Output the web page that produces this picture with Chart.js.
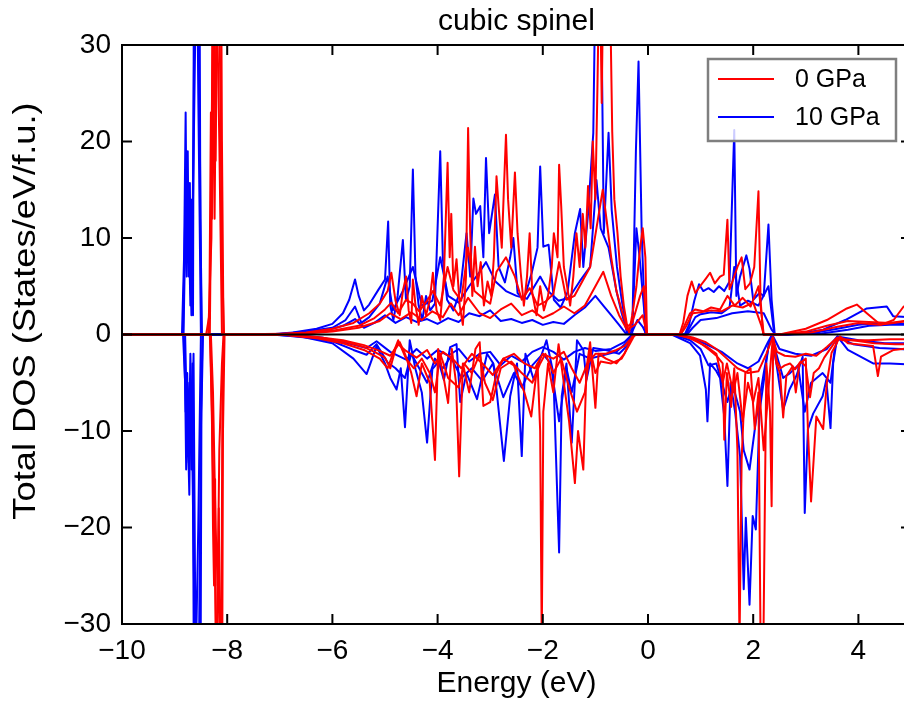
<!DOCTYPE html>
<html>
<head>
<meta charset="utf-8">
<script src="https://cdn.jsdelivr.net/npm/chart.js@4.4.1/dist/chart.umd.min.js"></script>
<style>
  html, body { margin: 0; padding: 0; background: #fff; overflow: hidden; }
  #wrap { width: 911px; height: 715px; }
</style>
</head>
<body>
<div id="wrap"><canvas id="dos"></canvas></div>
<script>
// tick labels
const energyTicks = [-10, -8, -6, -4, -2, 0, 2, 4];
const dosTicks = [-30, -20, -10, 0, 10, 20, 30];
const pressureLabels = ['0 GPa', '10 GPa'];
const yAxisLabel = 'Total DOS (States/eV/f.u.)';

// 0 GPa, spin up  [energy (eV), DOS]
const gpa0Up1 = [[-10,0],[-8.4,0],[-8.34,2],[-8.31,23],[-8.29,12],[-8.27,50],[-8.23,38],[-8.2,60],[-8.16,45],[-8.13,55],[-8.1,20],[-8.07,0],[-7.5,0],[-7,0.05],[-6.5,0.2],[-6,0.6],[-5.6,1.2],[-5.3,2.2],[-5.1,3.2],[-4.95,4.5],[-4.88,6.4],[-4.8,3.5],[-4.72,2],[-4.66,4.5],[-4.6,6],[-4.55,2.5],[-4.5,1.2],[-4.47,5.7],[-4.42,3],[-4.36,1],[-4.3,4],[-4.22,2],[-4.15,3.5],[-4.09,6.4],[-4.02,2.5],[-3.95,1.5],[-3.88,6],[-3.81,17.8],[-3.77,8],[-3.74,12.5],[-3.7,5],[-3.64,7.8],[-3.58,3],[-3.52,1],[-3.46,6],[-3.42,21.4],[-3.38,10.5],[-3.34,4],[-3.29,9.1],[-3.24,5],[-3.18,7.5],[-3.12,3],[-3.05,5.5],[-2.98,4],[-2.93,8],[-2.88,16.4],[-2.84,13.3],[-2.78,9],[-2.74,15],[-2.7,20.7],[-2.66,14],[-2.6,9],[-2.53,16.8],[-2.48,10.5],[-2.42,6.4],[-2.36,3],[-2.3,6],[-2.25,10.5],[-2.2,4.3],[-2.12,2],[-2.05,5],[-1.98,2.5],[-1.9,4],[-1.83,7],[-1.79,10.5],[-1.72,8],[-1.69,17.6],[-1.65,13.3],[-1.6,7],[-1.55,5.4],[-1.48,3],[-1.42,6],[-1.36,10.5],[-1.3,7],[-1.24,12.5],[-1.19,9],[-1.14,15.4],[-1.09,11],[-1.05,20],[-1.0,14],[-0.96,26],[-0.92,40],[-0.88,24],[-0.84,42],[-0.8,30],[-0.76,45],[-0.72,35],[-0.68,21],[-0.64,14],[-0.58,10.5],[-0.52,6],[-0.46,3],[-0.4,1],[-0.36,0.2],[-0.3,2],[-0.22,5],[-0.15,9],[-0.1,11],[-0.05,8],[-0.02,0],[0.6,0],[0.67,1.2],[0.75,4],[0.83,5.5],[0.9,4.3],[0.99,5],[1.1,5.8],[1.18,6.4],[1.27,5.3],[1.37,6],[1.44,6.2],[1.51,11.9],[1.55,4.7],[1.62,5.7],[1.7,7],[1.78,8],[1.85,4.7],[1.94,5.3],[2.02,7],[2.1,14.85],[2.14,3.6],[2.19,0],[2.5,0],[3.0,0.6],[3.4,1.5],[3.78,2.7],[3.97,3.1],[4.16,2.2],[4.42,1.0],[4.67,1.5],[4.86,2.9],[5,2.6]];
const gpa0Up2 = [[-10,0],[-8.36,0],[-8.3,10],[-8.26,38],[-8.22,18],[-8.18,42],[-8.14,30],[-8.1,8],[-8.06,0],[-7,0.03],[-6.5,0.15],[-6,0.4],[-5.5,0.9],[-5.2,1.7],[-5.0,2.6],[-4.88,3.3],[-4.75,2.2],[-4.6,3.6],[-4.47,3.2],[-4.35,2.4],[-4.2,3.5],[-4.09,4.5],[-3.95,3],[-3.81,7],[-3.7,4.6],[-3.55,3.5],[-3.42,9],[-3.3,4.5],[-3.15,3.8],[-3.0,3.2],[-2.88,6.5],[-2.7,8],[-2.53,6],[-2.4,3.6],[-2.25,4.8],[-2.1,3],[-1.95,3.4],[-1.8,4.2],[-1.69,7.5],[-1.55,3.6],[-1.4,4],[-1.24,5.6],[-1.1,7],[-0.95,12],[-0.86,15],[-0.79,12],[-0.7,8],[-0.6,4.5],[-0.5,2.5],[-0.4,0.8],[-0.3,1.2],[-0.15,4],[-0.08,5],[-0.02,0],[0.62,0],[0.7,1],[0.8,2.2],[0.9,2.6],[1.05,2.4],[1.2,2.8],[1.37,2.6],[1.51,4],[1.65,3],[1.8,3.8],[1.95,2.9],[2.1,5],[2.2,0],[2.5,0],[3.0,0.3],[3.4,0.9],[3.8,1.4],[4.2,1.3],[4.6,1.2],[5,1.5]];
const gpa0Up3 = [[-10,0],[-8.33,0],[-8.28,30],[-8.24,12],[-8.2,36],[-8.15,20],[-8.1,0],[-6.5,0.1],[-6,0.3],[-5.5,0.7],[-5.1,1.4],[-4.9,2.2],[-4.7,1.6],[-4.5,2.3],[-4.3,1.5],[-4.1,2.4],[-3.9,1.8],[-3.75,3.2],[-3.6,2],[-3.42,3.8],[-3.2,2.2],[-3.0,1.7],[-2.8,2.6],[-2.6,3.2],[-2.4,2],[-2.2,2.5],[-2,1.7],[-1.8,2.2],[-1.6,2.9],[-1.4,2.2],[-1.2,3],[-1.0,5],[-0.85,6.5],[-0.7,4],[-0.55,2],[-0.4,0.5],[-0.25,1],[-0.1,2],[-0.02,0],[0.62,0],[0.72,0.8],[0.85,2.2],[1.0,2.3],[1.2,2.5],[1.4,2.4],[1.6,3],[1.8,2.8],[2.0,3.3],[2.15,1],[2.2,0],[2.55,0],[3.1,0.2],[3.6,0.8],[4.0,1.2],[4.4,1.0],[4.8,1.3],[5,1.4]];

// 0 GPa, spin down
const gpa0Dn1 = [[-10,0],[-8.33,0],[-8.29,-8],[-8.27,-20],[-8.25,-26],[-8.23,-15],[-8.2,-45],[-8.17,-55],[-8.14,-40],[-8.11,-60],[-8.08,-10],[-8.05,0],[-7,0],[-6.8,-0.05],[-6.3,-0.3],[-5.8,-0.7],[-5.4,-1.3],[-5.2,-1.8],[-5.0,-2.4],[-4.9,-3.5],[-4.8,-1.5],[-4.72,-0.8],[-4.62,-2],[-4.5,-4],[-4.4,-6.4],[-4.3,-3],[-4.15,-5],[-4.05,-13],[-3.99,-1.5],[-3.9,-4],[-3.8,-7.1],[-3.73,-1.5],[-3.65,-5],[-3.59,-14.7],[-3.52,-3],[-3.4,-6],[-3.28,-1.5],[-3.2,-0.8],[-3.13,-7.4],[-3.0,-7],[-2.88,-4],[-2.75,-2.5],[-2.55,-3.2],[-2.35,-6],[-2.22,-8.5],[-2.1,-3],[-2.05,-10],[-2.02,-32],[-1.99,-8],[-1.9,-3],[-1.8,-6],[-1.7,-1],[-1.6,-5],[-1.5,-9],[-1.39,-15.4],[-1.33,-10],[-1.23,-14],[-1.17,-3.5],[-1.1,-0.8],[-1.0,-7.6],[-0.94,-2],[-0.8,-2.5],[-0.6,-3],[-0.45,-2],[-0.3,-0.2],[-0.2,0],[0.5,0],[0.8,-0.3],[1.0,-0.9],[1.17,-1.6],[1.3,-2.2],[1.42,-3],[1.45,-10.9],[1.5,-4],[1.58,-7.5],[1.64,-3.5],[1.7,-12],[1.74,-32],[1.78,-13],[1.85,-4],[1.95,-3.5],[2.03,-9.8],[2.1,-6],[2.14,-32],[2.19,-34],[2.25,-3],[2.32,-8],[2.35,-17.8],[2.38,-0.3],[2.44,-3],[2.51,-4],[2.57,-8.6],[2.63,-4.3],[2.75,-3.3],[2.81,-6],[2.88,-3],[3.0,-2.5],[3.04,-9.8],[3.1,-17.3],[3.2,-8.5],[3.33,-9.8],[3.4,-5],[3.49,-1.9],[3.56,-1.2],[3.65,-0.2],[3.8,-0.9],[4.28,-1.2],[4.37,-4.3],[4.43,-2.3],[4.67,-1.6],[5,-1.4]];
const gpa0Dn2 = [[-10,0],[-8.32,0],[-8.28,-12],[-8.24,-22],[-8.2,-38],[-8.16,-18],[-8.12,-44],[-8.09,-5],[-8.06,0],[-6.9,-0.05],[-6.3,-0.4],[-5.8,-0.9],[-5.4,-1.6],[-5.1,-2.5],[-4.95,-3.5],[-4.85,-2],[-4.75,-0.6],[-4.6,-2.5],[-4.45,-3.5],[-4.3,-2.5],[-4.15,-4],[-4.05,-6],[-3.95,-2],[-3.8,-4.5],[-3.6,-5.5],[-3.5,-3],[-3.35,-4],[-3.2,-2],[-3.1,-5],[-2.95,-6.8],[-2.8,-3.5],[-2.6,-2.8],[-2.4,-4],[-2.2,-5],[-2.05,-3],[-1.95,-2],[-1.8,-4],[-1.65,-2.5],[-1.5,-5.5],[-1.35,-8],[-1.2,-6],[-1.1,-1.5],[-1.0,-4],[-0.9,-2.8],[-0.7,-3],[-0.5,-2.5],[-0.35,-1],[-0.25,0],[0.55,0],[0.8,-0.4],[1.1,-1.2],[1.3,-2],[1.42,-5],[1.5,-3],[1.62,-6],[1.7,-4],[1.8,-9],[1.9,-5],[2.0,-7],[2.1,-4.5],[2.2,-12],[2.3,-5],[2.37,-0.5],[2.45,-2.8],[2.52,-3.5],[2.6,-3.2],[2.7,-3],[2.8,-3.6],[2.9,-2.8],[3.0,-3.3],[3.08,-6.5],[3.15,-4],[3.25,-3.5],[3.35,-2.4],[3.5,-1.2],[3.6,-0.4],[3.7,-0.6],[4.2,-0.6],[4.6,-0.5],[5,-0.5]];
const gpa0Dn3 = [[-10,0],[-8.31,0],[-8.27,-6],[-8.22,-20],[-8.18,-26],[-8.15,-12],[-8.1,-3],[-8.07,0],[-6.9,-0.03],[-6.3,-0.25],[-5.8,-0.6],[-5.4,-1.1],[-5.1,-1.7],[-4.9,-2.2],[-4.75,-1],[-4.6,-1.7],[-4.4,-2.4],[-4.2,-1.6],[-4.05,-3],[-3.9,-1.8],[-3.7,-2.6],[-3.55,-3.5],[-3.35,-2],[-3.15,-3],[-2.95,-4.2],[-2.75,-2.5],[-2.55,-2],[-2.35,-3],[-2.15,-3.5],[-2.0,-2],[-1.8,-2.5],[-1.6,-1.8],[-1.45,-3.5],[-1.3,-5],[-1.15,-3],[-1.0,-2],[-0.8,-2],[-0.6,-1.6],[-0.45,-1.2],[-0.32,-0.4],[-0.25,0],[0.58,0],[0.85,-0.3],[1.1,-0.8],[1.3,-1.5],[1.5,-2.5],[1.7,-3.5],[1.9,-4],[2.1,-3.8],[2.25,-2],[2.37,-0.3],[2.45,-1.8],[2.6,-2.2],[2.8,-2.3],[3.0,-2],[3.2,-2.2],[3.4,-1.3],[3.6,-0.3],[3.75,-0.5],[4.3,-0.9],[4.7,-1.0],[5,-1.0]];

// 10 GPa, spin up
const gpa10Up1 = [[-10,0],[-8.86,0],[-8.82,8],[-8.79,23],[-8.77,9],[-8.75,19],[-8.73,6],[-8.71,15.7],[-8.69,4],[-8.67,14],[-8.65,2],[-8.63,45],[-8.6,55],[-8.57,40],[-8.54,60],[-8.51,12],[-8.48,0],[-7.2,0],[-6.75,0.2],[-6.3,0.6],[-6.0,1.1],[-5.8,2.2],[-5.68,3.6],[-5.57,5.7],[-5.5,4],[-5.4,2.5],[-5.3,3.1],[-5.13,4.6],[-5.0,5.7],[-4.94,11.7],[-4.9,3],[-4.84,1.5],[-4.76,4],[-4.66,9.8],[-4.6,3.5],[-4.53,5],[-4.47,17.1],[-4.42,6],[-4.36,3],[-4.29,1.5],[-4.22,4],[-4.14,2.5],[-4.05,3.2],[-3.95,19],[-3.9,7.8],[-3.82,3.6],[-3.7,2.5],[-3.57,4.5],[-3.45,10.5],[-3.38,6],[-3.32,14.1],[-3.27,12.5],[-3.19,13.3],[-3.13,8],[-3.08,18.3],[-3.02,10.5],[-2.91,14.5],[-2.84,7],[-2.72,5.4],[-2.62,8],[-2.56,10],[-2.48,4.3],[-2.36,3.6],[-2.21,6.4],[-2.1,9],[-2.05,17.4],[-1.99,9.1],[-1.89,9.3],[-1.79,3.6],[-1.66,2.8],[-1.53,4.4],[-1.39,10.5],[-1.29,13],[-1.23,7],[-1.14,12.5],[-1.04,20.9],[-0.98,45],[-0.95,35],[-0.92,50],[-0.84,10.5],[-0.75,20.9],[-0.69,12.9],[-0.59,7],[-0.5,3.6],[-0.4,0.2],[-0.3,0],[-0.23,19],[-0.18,28.3],[-0.12,10.5],[-0.05,0],[0.7,0],[0.78,1],[0.88,3.5],[0.97,5.2],[1.05,4.5],[1.15,4.8],[1.25,4.4],[1.35,5],[1.45,4.5],[1.55,5.5],[1.64,21.2],[1.68,4],[1.75,6],[1.87,8.2],[1.93,6.8],[2.0,3.6],[2.12,4.3],[2.2,4],[2.29,11.4],[2.35,3.6],[2.41,0],[2.63,0],[3.0,0.2],[3.33,0.5],[3.75,1.5],[4.16,2.7],[4.54,2.9],[4.66,1.9],[5,1.8]];
const gpa10Up2 = [[-10,0],[-8.84,0],[-8.8,12],[-8.77,6],[-8.74,14],[-8.7,3],[-8.66,10],[-8.62,35],[-8.58,45],[-8.55,25],[-8.5,0],[-7,0.05],[-6.5,0.3],[-6.0,0.7],[-5.75,1.5],[-5.57,2.9],[-5.45,1.2],[-5.3,1.8],[-5.1,3.2],[-4.95,6],[-4.85,2.5],[-4.66,4.5],[-4.47,7],[-4.3,3],[-4.1,3.5],[-3.95,8],[-3.8,4],[-3.6,3.3],[-3.4,5],[-3.2,6.5],[-3.08,7.5],[-2.9,5.5],[-2.7,4.5],[-2.5,4],[-2.3,3.7],[-2.05,6],[-1.9,4.5],[-1.7,3.5],[-1.5,3.8],[-1.3,5.5],[-1.1,7],[-0.98,16],[-0.9,11],[-0.75,9],[-0.6,4.5],[-0.5,2.2],[-0.4,0.3],[-0.3,0.5],[-0.22,11],[-0.16,8],[-0.08,3],[-0.03,0],[0.72,0],[0.8,0.8],[0.9,1.8],[1.0,2.1],[1.2,2.3],[1.4,2.2],[1.55,2.8],[1.64,7],[1.75,3],[1.9,3.5],[2.1,3],[2.29,5],[2.4,0],[2.65,0],[3.2,0.2],[3.6,0.6],[4.0,1.0],[4.4,1.2],[4.8,1.1],[5,1.2]];
const gpa10Up3 = [[-10,0],[-8.83,0],[-8.78,16],[-8.75,8],[-8.72,12],[-8.68,2],[-8.61,30],[-8.57,38],[-8.52,20],[-8.49,0],[-6.8,0.05],[-6.2,0.3],[-5.8,0.9],[-5.57,1.6],[-5.4,0.7],[-5.2,1.2],[-5.0,2],[-4.8,1.2],[-4.6,1.8],[-4.4,1.3],[-4.2,1.6],[-4.0,1.1],[-3.8,1.7],[-3.6,1.3],[-3.4,2.2],[-3.2,1.9],[-3.0,2.5],[-2.8,1.4],[-2.6,1.6],[-2.4,1.2],[-2.2,1.5],[-2.0,1.0],[-1.8,1.3],[-1.6,1.1],[-1.4,2],[-1.2,2.8],[-1.0,4],[-0.85,3],[-0.7,2],[-0.55,1],[-0.42,0.1],[-0.3,0.3],[-0.2,1.5],[-0.1,0.8],[-0.03,0],[0.74,0],[0.85,0.7],[1.0,1.5],[1.3,1.7],[1.6,2.2],[1.9,2.4],[2.2,2.2],[2.35,0.5],[2.42,0],[2.7,0],[3.3,0.1],[3.8,0.5],[4.2,0.9],[4.6,1.0],[5,1.0]];

// 10 GPa, spin down
const gpa10Dn1 = [[-10,0],[-8.84,0],[-8.8,-5],[-8.78,-14],[-8.76,-8],[-8.74,-12],[-8.72,-16.6],[-8.7,-6],[-8.68,-10],[-8.66,-3],[-8.63,-40],[-8.6,-55],[-8.56,-45],[-8.52,-60],[-8.49,-8],[-8.46,0],[-7.2,0],[-6.6,-0.2],[-6.0,-0.9],[-5.6,-2.5],[-5.35,-4.1],[-5.16,-1.2],[-5.0,-3],[-4.9,-4.5],[-4.78,-5.7],[-4.7,-3.5],[-4.62,-9.6],[-4.53,-0.6],[-4.42,-3.6],[-4.3,-6],[-4.2,-11.2],[-4.1,-3.6],[-3.98,-2.8],[-3.88,-4.7],[-3.76,-1.3],[-3.64,-1],[-3.57,-7],[-3.45,-4],[-3.25,-6.7],[-3.06,-2],[-2.94,-3],[-2.88,-5.7],[-2.74,-13.1],[-2.62,-6.4],[-2.49,-3],[-2.4,-12.6],[-2.33,-2],[-2.17,-4.7],[-2.08,-3],[-1.93,-0.6],[-1.8,-4],[-1.69,-22.6],[-1.64,-6.4],[-1.55,-3],[-1.45,-11.2],[-1.35,-0.6],[-1.23,-1.6],[-1.17,-4.7],[-1.04,-1.4],[-0.8,-1.6],[-0.55,-2],[-0.4,-1.2],[-0.28,0],[0.45,0],[0.8,-0.9],[0.99,-2.2],[1.1,-5.7],[1.13,-9],[1.18,-3],[1.3,-3.8],[1.37,-4.5],[1.45,-8.5],[1.51,-15.7],[1.57,-5],[1.66,-8.2],[1.75,-12.6],[1.82,-26.4],[1.86,-19],[1.93,-28],[1.99,-18.8],[2.05,-20.2],[2.12,-8],[2.21,-4.5],[2.29,-1.2],[2.35,-0.2],[2.44,-3],[2.57,-7.8],[2.69,-5.7],[2.82,-4.3],[2.94,-2.3],[2.98,-18.5],[3.04,-9.8],[3.14,-8.2],[3.32,-6.4],[3.39,-4.7],[3.47,-9.7],[3.52,-3],[3.6,-0.2],[3.8,-1.6],[4.28,-3],[4.6,-3],[5,-3.1]];
const gpa10Dn2 = [[-10,0],[-8.82,0],[-8.79,-8],[-8.76,-4],[-8.73,-13.3],[-8.7,-2],[-8.67,-9.8],[-8.62,-30],[-8.58,-50],[-8.54,-35],[-8.5,-10],[-8.47,0],[-7.0,-0.05],[-6.5,-0.3],[-6.0,-0.7],[-5.6,-1.6],[-5.35,-2.1],[-5.16,-1.0],[-4.95,-2.9],[-4.8,-3.5],[-4.62,-4.5],[-4.5,-2],[-4.35,-3.5],[-4.2,-5],[-4.05,-2.5],[-3.9,-3.5],[-3.75,-2.3],[-3.55,-4.5],[-3.35,-3.5],[-3.15,-4.8],[-2.95,-3],[-2.75,-6.5],[-2.55,-4],[-2.4,-5.5],[-2.2,-3.2],[-2.0,-2],[-1.85,-3],[-1.69,-9],[-1.55,-3.5],[-1.45,-6],[-1.3,-2],[-1.1,-2.5],[-0.9,-2.2],[-0.6,-1.8],[-0.4,-0.8],[-0.3,0],[0.48,0],[0.8,-0.6],[1.0,-1.5],[1.15,-3.2],[1.3,-3],[1.51,-7],[1.6,-5],[1.75,-8],[1.82,-12],[1.93,-14],[2.05,-9],[2.2,-4],[2.3,-1],[2.36,0],[2.44,-2],[2.57,-4.5],[2.7,-4],[2.85,-3.2],[2.98,-8],[3.1,-5],[3.32,-4],[3.47,-5],[3.55,-1.5],[3.62,-0.3],[3.9,-1],[4.4,-1.4],[4.8,-1.5],[5,-1.6]];
const gpa10Dn3 = [[-10,0],[-8.8,0],[-8.76,-10],[-8.72,-5],[-8.68,-14],[-8.64,-2],[-8.6,-35],[-8.55,-20],[-8.5,0],[-6.8,-0.03],[-6.2,-0.3],[-5.7,-0.9],[-5.35,-1.4],[-5.16,-0.7],[-4.9,-1.8],[-4.6,-2.6],[-4.4,-1.5],[-4.2,-2.5],[-4,-1.6],[-3.8,-2.2],[-3.6,-1.5],[-3.4,-2.8],[-3.2,-2],[-3,-1.8],[-2.8,-3.2],[-2.6,-2.2],[-2.4,-2.8],[-2.2,-1.8],[-2,-1.3],[-1.8,-1.8],[-1.6,-2.6],[-1.4,-1.8],[-1.2,-1.4],[-1,-1.7],[-0.7,-1.5],[-0.45,-0.8],[-0.3,0],[0.5,0],[0.85,-0.4],[1.1,-1],[1.4,-1.8],[1.7,-3],[1.9,-3.5],[2.1,-2.8],[2.28,-0.8],[2.36,0],[2.5,-1.5],[2.8,-2],[3.1,-2.2],[3.4,-1.5],[3.6,-0.2],[4.0,-0.6],[4.5,-0.9],[5,-0.9]];

const RED = '#ff0000';
const BLUE = '#0000ff';
const FONT = "'Liberation Sans', Arial, Helvetica, sans-serif";

function line(label, pts, color) {
  return {
    label: label,
    data: pts.map(p => ({ x: p[0], y: p[1] })),
    borderColor: color,
    borderWidth: 2,
    borderJoinStyle: 'round',
    pointRadius: 0,
    tension: 0,
    fill: false
  };
}

const datasets = [
  line(pressureLabels[0], gpa0Up2, RED),
  line(pressureLabels[0], gpa0Up3, RED),
  line(pressureLabels[0], gpa0Dn2, RED),
  line(pressureLabels[0], gpa0Dn3, RED),
  line(pressureLabels[0], gpa0Up1, RED),
  line(pressureLabels[0], gpa0Dn1, RED),
  line(pressureLabels[1], gpa10Up2, BLUE),
  line(pressureLabels[1], gpa10Up3, BLUE),
  line(pressureLabels[1], gpa10Dn2, BLUE),
  line(pressureLabels[1], gpa10Dn3, BLUE),
  line(pressureLabels[1], gpa10Up1, BLUE),
  line(pressureLabels[1], gpa10Dn1, BLUE)
];

// zero line, frame with inward ticks, y label, boxed legend
const framePlugin = {
  id: 'frame',
  afterDatasetsDraw(chart) {
    const { ctx, chartArea: a, scales } = chart;
    const y0 = scales.y.getPixelForValue(0);
    ctx.save();
    ctx.strokeStyle = '#000';
    ctx.lineWidth = 2;
    ctx.beginPath();
    ctx.moveTo(a.left, y0);
    ctx.lineTo(a.right, y0);
    ctx.stroke();
    ctx.restore();
  },
  afterDraw(chart) {
    const { ctx, chartArea: a, scales } = chart;
    ctx.save();
    ctx.strokeStyle = '#000';
    ctx.lineWidth = 2;
    ctx.strokeRect(a.left, a.top, a.right - a.left, a.bottom - a.top);
    ctx.beginPath();
    energyTicks.forEach(v => {
      const x = scales.x.getPixelForValue(v);
      ctx.moveTo(x, a.bottom); ctx.lineTo(x, a.bottom - 10);
      ctx.moveTo(x, a.top); ctx.lineTo(x, a.top + 10);
    });
    dosTicks.forEach(v => {
      const y = scales.y.getPixelForValue(v);
      ctx.moveTo(a.left, y); ctx.lineTo(a.left + 10, y);
      ctx.moveTo(a.right, y); ctx.lineTo(a.right - 10, y);
    });
    ctx.stroke();

    // y axis label (slightly stretched along its length, like the original)
    ctx.save();
    ctx.translate(26, 311);
    ctx.rotate(-Math.PI / 2);
    ctx.scale(1.17, 1);
    ctx.font = '31px ' + FONT;
    ctx.fillStyle = '#000';
    ctx.textAlign = 'center';
    ctx.textBaseline = 'middle';
    ctx.fillText(yAxisLabel, 0, 0);
    ctx.restore();

    // legend
    const bx = a.right - 203, by = a.top + 14, bw = 188, bh = 82;
    ctx.fillStyle = 'rgba(255,255,255,0.8)';
    ctx.fillRect(bx, by, bw, bh);
    ctx.strokeStyle = '#7f7f7f';
    ctx.lineWidth = 2.5;
    ctx.strokeRect(bx, by, bw, bh);
    ctx.font = '25px ' + FONT;
    ctx.textBaseline = 'middle';
    ctx.textAlign = 'left';
    [RED, BLUE].forEach((c, i) => {
      const yy = by + 20 + i * 38;
      ctx.strokeStyle = c;
      ctx.lineWidth = 2;
      ctx.beginPath();
      ctx.moveTo(bx + 10, yy); ctx.lineTo(bx + 66, yy);
      ctx.stroke();
      ctx.fillStyle = '#000';
      ctx.fillText(pressureLabels[i], bx + 87, yy + 1);
    });
    ctx.restore();
  }
};

const fmt = v => String(v).replace('-', '\u2212');

new Chart(document.getElementById('dos'), {
  type: 'line',
  data: { datasets: datasets },
  plugins: [framePlugin],
  options: {
    animation: false,
    responsive: true,
    maintainAspectRatio: false,
    layout: { padding: 0 },
    plugins: { legend: { display: false }, tooltip: { enabled: false } },
    scales: {
      x: {
        type: 'linear', position: 'bottom', min: -10, max: 5,
        afterBuildTicks: s => { s.ticks = energyTicks.map(v => ({ value: v })); },
        afterFit: s => { s.height = 91; },
        grid: { display: false, drawTicks: false },
        border: { display: false },
        ticks: { color: '#000', padding: 10, maxRotation: 0, autoSkip: false,
                 font: { family: FONT, size: 28 }, callback: v => fmt(v) },
        title: { display: true, text: 'Energy (eV)', color: '#000',
                 font: { family: FONT, size: 30 }, padding: { top: 0, bottom: 13 } }
      },
      top: {
        type: 'linear', position: 'top', min: -10, max: 5,
        afterFit: s => { s.height = 45; },
        grid: { display: false, drawTicks: false },
        border: { display: false },
        ticks: { display: false },
        title: { display: true, text: 'cubic spinel', color: '#000',
                 font: { family: FONT, size: 30 }, padding: { top: 4, bottom: 0 } }
      },
      y: {
        type: 'linear', position: 'left', min: -30, max: 30,
        afterBuildTicks: s => { s.ticks = dosTicks.map(v => ({ value: v })); },
        afterFit: s => { s.width = 122; },
        grid: { display: false, drawTicks: false },
        border: { display: false },
        ticks: { color: '#000', padding: 11, autoSkip: false,
                 font: { family: FONT, size: 28 }, callback: v => fmt(v) },
        title: { display: false }
      }
    }
  }
});
</script>
</body>
</html>
